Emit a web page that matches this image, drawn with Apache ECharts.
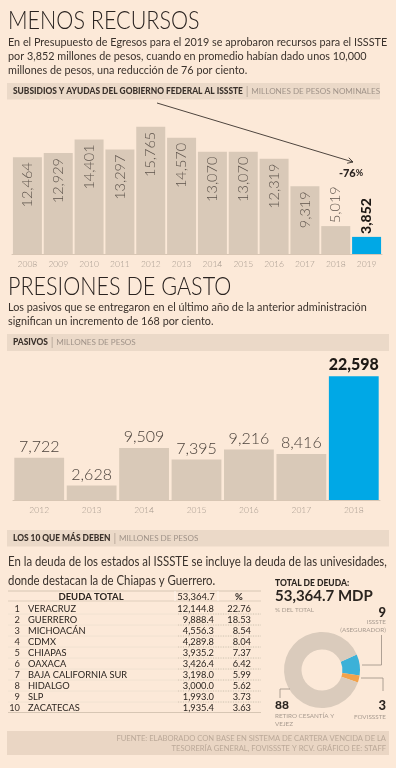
<!DOCTYPE html>
<html><head><meta charset="utf-8">
<script src="https://cdn.jsdelivr.net/npm/echarts@6/dist/echarts.min.js"></script>
<style>html,body{margin:0;padding:0;background:#fce9d8}#c{width:396px;height:768px}</style>
</head><body><div id="c"></div>
<script>
// ---- DATA ----
const years1 = ['2008','2009','2010','2011','2012','2013','2014','2015','2016','2017','2018','2019'];
const subsidios = [12464,12929,14401,13297,15765,14570,13070,13070,12319,9319,5019,3852];
const cambio = '-76';
const years2 = ['2012','2013','2014','2015','2016','2017','2018'];
const pasivos = [7722,2628,9509,7395,9216,8416,22598];
const estados = ['VERACRUZ','GUERRERO','MICHOACÁN','CDMX','CHIAPAS','OAXACA','BAJA CALIFORNIA SUR','HIDALGO','SLP','ZACATECAS'];
const deuda = [12144.8,9888.4,4556.3,4289.8,3935.2,3426.4,3198.0,3000.0,1993.0,1935.4];
const deudaPct = [22.76,18.53,8.54,8.04,7.37,6.42,5.99,5.62,3.73,3.63];
const deudaTotal = 53364.7;
const pieNames = ['ISSSTE (ASEGURADOR)','FOVISSSTE','RETIRO CESANTÍA Y VEJEZ'];
const pieValues = [9,3,88];

// ---- STYLE ----
const F = 'Lato, "Open Sans", sans-serif';
const BG='#fce9d8', BAR='#d9c9b8', BLUE='#00a8e6', BAND='#ebd9c8', DARK='#2b2520', LABEL='#5e544c', AX='#a3978c';
function fmt(v,d){d=d||0;return v.toLocaleString('en-US',{minimumFractionDigits:d,maximumFractionDigits:d});}
const g=[];
function T(x,y,text,o,sx){g.push({type:'text',x:x,y:y,scaleX:sx||1,silent:true,z:10,style:Object.assign({text:text,fill:DARK,fontFamily:F,fontSize:12,textAlign:'left',textVerticalAlign:'middle'},o||{})});}
function R(x,y,w,h,fill){g.push({type:'rect',shape:{x:x,y:y,width:w,height:h},style:{fill:fill},silent:true,z:1});}
function L(x1,y1,x2,y2,stroke,lw,dash){g.push({type:'line',shape:{x1:x1,y1:y1,x2:x2,y2:y2},style:{stroke:stroke,lineWidth:lw||1,lineDash:dash||null},silent:true,z:5});}
const bandRich={b:{fontFamily:F,fontWeight:900,fontSize:8.4,fill:'#3a312b'},s:{fontFamily:F,fontSize:11,fill:'#b3a497'},n:{fontFamily:F,fontSize:8.1,fill:'#a09389'}};

// Section 1
T(8,21,'MENOS RECURSOS',{fontSize:24.5,fontWeight:300,fill:'#2a2320'},0.88);
T(8,56,'En el Presupuesto de Egresos para el 2019 se aprobaron recursos para el ISSSTE\npor 3,852 millones de pesos, cuando en promedio habían dado unos 10,000\nmillones de pesos, una reducción de 76 por ciento.',{fontSize:12.3,lineHeight:14,fill:'#3a322c'},0.88);
R(7,83,373,16.5,BAND);
T(13,91.5,'{b|SUBSIDIOS Y AYUDAS DEL GOBIERNO FEDERAL AL ISSSTE}{s| | }{n|MILLONES DE PESOS NOMINALES}',{rich:bandRich});
// arrow annotation
(function(){const x1=157,y1=103,x2=353,y2=162;L(x1,y1,x2,y2,'#3a322c',0.9);
 const a=Math.atan2(y2-y1,x2-x1),len=6;
 [a+Math.PI-0.5,a+Math.PI+0.5].forEach(function(b){L(x2,y2,x2+len*Math.cos(b),y2+len*Math.sin(b),'#3a322c',0.9);});})();
T(351,173,'{a|'+cambio+'}{p|%}',{textAlign:'center',rich:{a:{fontFamily:F,fontWeight:900,fontSize:11,fill:'#2a2320'},p:{fontFamily:F,fontWeight:700,fontSize:9,fill:'#2a2320'}}});

// Section 2
T(8,287,'PRESIONES DE GASTO',{fontSize:24.5,fontWeight:300,fill:'#2a2320'},0.88);
T(8,314,'Los pasivos que se entregaron en el último año de la anterior administración\nsignifican un incremento de 168 por ciento.',{fontSize:12.3,lineHeight:14,fill:'#3a322c'},0.88);
R(7,334,382,17,BAND);
T(13,342.5,'{b|PASIVOS}{s| | }{n|MILLONES DE PESOS}',{rich:bandRich});

// Section 3
R(7,530,382,16.5,BAND);
T(13,538.5,'{b|LOS 10 QUE MÁS DEBEN}{s| | }{n|MILLONES DE PESOS}',{rich:bandRich});
T(8,571.5,'En la deuda de los estados al ISSSTE se incluye la deuda de las univesidades,\ndonde destacan la de Chiapas y Guerrero.',{fontSize:12.8,lineHeight:19,fill:'#3a322c'},0.89);

// table
const tTop=591, rowH=11, hdrC=596.5, row0=608.5;
L(8,tTop,261,tTop,'#cdbcab',0.8);
L(8,hdrC+4.5,261,hdrC+4.5,'#d9c8b7',0.8);
L(175,tTop,175,hdrC+4.5,'#fff5ec',1);L(218,tTop,218,hdrC+4.5,'#fff5ec',1);
T(91,hdrC,'DEUDA TOTAL',{fontSize:9.5,fontWeight:700,textAlign:'center'});
T(196,hdrC,fmt(deudaTotal,1),{fontSize:9.5,fontWeight:400,textAlign:'center'});
T(239,hdrC,'%',{fontSize:9.5,fontWeight:700,textAlign:'center'});
estados.forEach(function(s,i){const y=row0+i*rowH;
 T(20,y,String(i+1),{fontSize:9.3,textAlign:'right',fill:'#3a322c'});
 T(28,y,s,{fontSize:9.3,fill:'#2b2520'});
 T(214,y,fmt(deuda[i],1),{fontSize:9.3,textAlign:'right',fill:'#2b2520'});
 T(251,y,fmt(deudaPct[i],2),{fontSize:9.3,textAlign:'right',fill:'#2b2520'});
 if(i<estados.length-1){L(8,y+5.5,261,y+5.5,'#efdfd0',0.8);L(178,y+5.5,261,y+5.5,'#cdbcab',0.8,[1,1.5]);}
});
L(8,row0+9*rowH+5,261,row0+9*rowH+5,'#cdbcab',0.8);

// donut texts
T(275,583,'TOTAL DE DEUDA:',{fontSize:8.5,fontWeight:900});
T(275,596,fmt(deudaTotal,1)+' MDP',{fontSize:15,fontWeight:700});
T(275,609.5,'% DEL TOTAL',{fontSize:6.3,fill:'#a89b90'});
T(386,613,String(pieValues[0]),{fontSize:13,fontWeight:900,textAlign:'right'});
T(386,626,'ISSSTE\n(ASEGURADOR)',{fontSize:6.3,fill:'#a89b90',textAlign:'right',lineHeight:8});
T(386,705.5,String(pieValues[1]),{fontSize:13,fontWeight:900,textAlign:'right'});
T(386,716.5,'FOVISSSTE',{fontSize:6.3,fill:'#a89b90',textAlign:'right'});
T(275,705.5,String(pieValues[2]),{fontSize:12,fontWeight:900});
T(275,720,'RETIRO CESANTÍA Y\nVEJEZ',{fontSize:6.3,fill:'#a89b90',lineHeight:8});
// leader lines
L(362,665,381.5,665,'#9a8e84',0.8);L(381.5,665,381.5,635,'#9a8e84',0.8);
L(361,678,383,678,'#9a8e84',0.8);L(383,678,383,691,'#9a8e84',0.8);
L(290,689,280,689,'#9a8e84',0.8);L(280,689,280,698,'#9a8e84',0.8);

// footer
R(7,731,382,24,'#ead6c4');
T(386,743.5,'FUENTE: ELABORADO CON BASE EN SISTEMA DE CARTERA VENCIDA DE LA\nTESORERÍA GENERAL, FOVISSSTE Y RCV. GRÁFICO EE: STAFF',{fontSize:7.6,fill:'#bba999',textAlign:'right',lineHeight:9.5});

// ---- CHART ----
const lbl1=subsidios.map(function(v,i){
 const last=i===subsidios.length-1, out=i>=subsidios.length-2;
 return {value:v,itemStyle:{color:last?BLUE:BAR},label:{show:true,rotate:90,position:out?'top':'insideTop',align:out?'left':'right',verticalAlign:'middle',distance:out?3:5,fontFamily:F,fontSize:last?14:14.5,fontWeight:last?900:300,color:last?'#1e1915':LABEL,formatter:function(p){return fmt(p.value);}}};
});
const lbl2=pasivos.map(function(v,i){
 const last=i===pasivos.length-1;
 return {value:v,itemStyle:{color:last?BLUE:BAR},label:{show:true,position:'top',distance:3,fontFamily:F,fontSize:16,fontWeight:last?900:300,color:last?'#1e1915':'#4a413a',formatter:function(p){return fmt(p.value);}}};
});
const axisCommon={type:'category',axisTick:{show:false},axisLine:{lineStyle:{color:'#d8c6b4',width:1}},axisLabel:{color:AX,fontFamily:F,fontWeight:300,fontSize:8.5,margin:6}};
const chart=echarts.init(document.getElementById('c'));
chart.setOption({
 backgroundColor:BG,animation:false,
 grid:[{left:12,right:14,top:120,bottom:514},{left:13,right:16,top:363,bottom:268}],
 xAxis:[Object.assign({gridIndex:0,data:years1},axisCommon),Object.assign({gridIndex:1,data:years2},axisCommon)],
 yAxis:[{gridIndex:0,type:'value',min:2000,max:16500,show:false},{gridIndex:1,type:'value',min:0,max:25000,show:false}],
 series:[
  {type:'bar',xAxisIndex:0,yAxisIndex:0,data:lbl1,barCategoryGap:'6%'},
  {type:'bar',xAxisIndex:1,yAxisIndex:1,data:lbl2,barCategoryGap:'5%'},
  {type:'pie',center:[322,670],radius:[20.5,38],startAngle:24,clockwise:true,label:{show:false},labelLine:{show:false},silent:true,
   data:pieNames.map(function(n,i){return {name:n,value:pieValues[i],itemStyle:{color:['#3cb1d8','#f2a24a','#dacbbc'][i]}};})}
 ],
 graphic:g
});
</script></body></html>
